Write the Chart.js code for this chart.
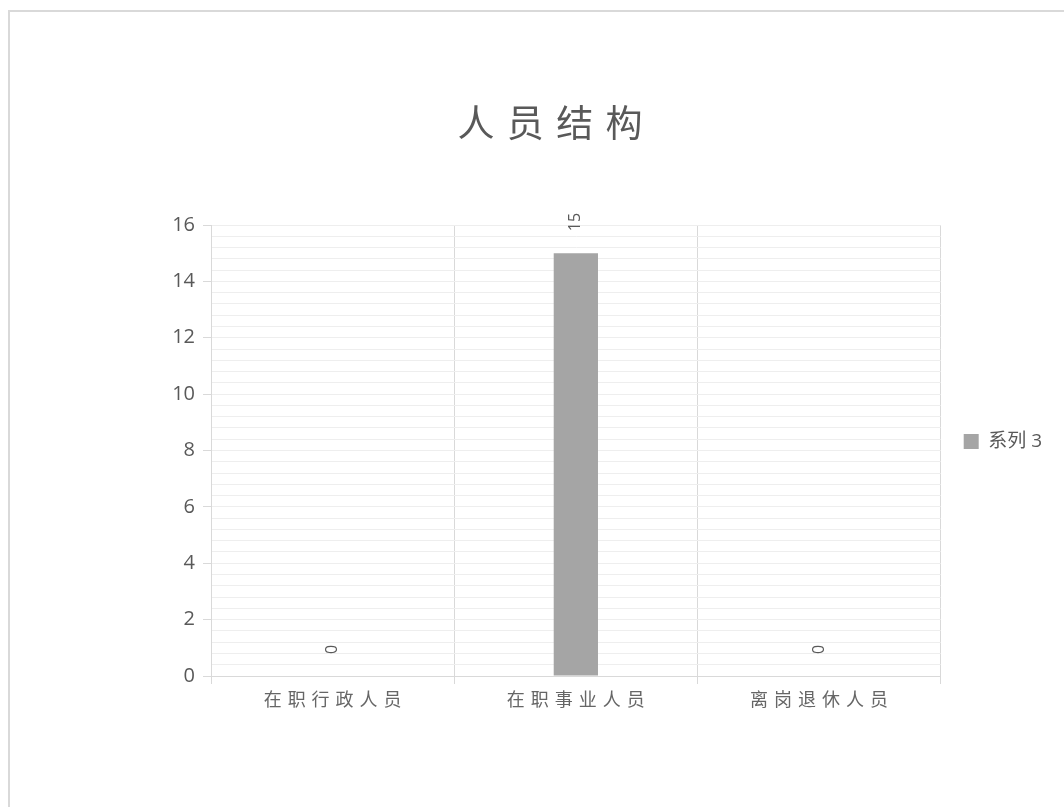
<!DOCTYPE html>
<html>
<head>
<meta charset="utf-8">
<script src="https://cdn.jsdelivr.net/npm/chart.js@4.4.1/dist/chart.umd.min.js"></script>
<style>
  html, body { margin: 0; padding: 0; overflow: hidden; background: #ffffff; }
  #wrap { position: absolute; left: 0; top: 0; width: 1064px; height: 807px; }
</style>
</head>
<body>
<div id="wrap"><canvas id="c"></canvas></div>
<script>
const chartTitle = '人员结构';
const categories = ['在职行政人员', '在职事业人员', '离岗退休人员'];
const seriesName = '系列 3';
const seriesValues = [0, 15, 0];
const yMin = 0, yMax = 16, yMajorStep = 2, yMinorStep = 0.4;

const FONT = "'Open Sans', 'Noto Sans CJK SC', sans-serif";
const TEXT = '#595959';
const spaced = (s, sp) => s.split('').join(sp);
const isMajor = v => Math.abs(v / yMajorStep - Math.round(v / yMajorStep)) < 1e-6;

const frame = {
  id: 'frame',
  beforeDraw(chart) {
    const ctx = chart.ctx;
    ctx.save();
    ctx.fillStyle = '#ffffff';
    ctx.fillRect(0, 0, chart.width, chart.height);
    ctx.strokeStyle = '#d9d9d9';
    ctx.lineWidth = 2;
    ctx.beginPath();
    ctx.moveTo(9, chart.height + 5);
    ctx.lineTo(9, 11);
    ctx.lineTo(chart.width + 5, 11);
    ctx.stroke();
    ctx.restore();
  }
};

const legendNudge = {
  id: 'legendNudge',
  afterLayout(chart) {
    if (chart.legend) {
      chart.legend.top -= 9;
      chart.legend.bottom -= 9;
    }
  }
};

const valueLabels = {
  id: 'valueLabels',
  afterDatasetsDraw(chart) {
    const ctx = chart.ctx;
    chart.data.datasets.forEach((ds, di) => {
      const meta = chart.getDatasetMeta(di);
      meta.data.forEach((el, i) => {
        ctx.save();
        ctx.translate(el.x, el.y - 22);
        ctx.rotate(-Math.PI / 2);
        ctx.font = '16px ' + FONT;
        ctx.fillStyle = TEXT;
        ctx.textAlign = 'left';
        ctx.textBaseline = 'middle';
        ctx.fillText(String(ds.data[i]), 0, 0);
        ctx.restore();
      });
    });
  }
};

new Chart(document.getElementById('c'), {
  type: 'bar',
  data: {
    labels: categories,
    datasets: [{
      label: seriesName,
      data: seriesValues,
      backgroundColor: '#a5a5a5',
      borderWidth: 0,
      barPercentage: 1,
      categoryPercentage: 0.182
    }]
  },
  options: {
    responsive: true,
    maintainAspectRatio: false,
    animation: false,
    devicePixelRatio: 1,
    layout: { padding: { left: 48, right: 12, top: 0, bottom: 91 } },
    plugins: {
      title: {
        display: true,
        text: spaced(chartTitle, '\u2004'),
        color: TEXT,
        font: { family: FONT, size: 37, weight: 'normal', lineHeight: 1.2 },
        padding: { top: 104, bottom: 76.6 }
      },
      legend: {
        position: 'right',
        fullSize: false,
        labels: {
          color: TEXT,
          font: { family: FONT, size: 19 },
          boxWidth: 15,
          boxHeight: 15,
          padding: 23
        }
      },
      tooltip: { enabled: false }
    },
    scales: {
      x: {
        offset: true,
        grid: {
          offset: true,
          color: '#d9d9d9',
          tickColor: '#d9d9d9',
          tickLength: 8,
          lineWidth: 1
        },
        border: { color: '#d9d9d9' },
        ticks: {
          color: '#666666',
          font: { family: FONT, size: 18 },
          padding: 6,
          maxRotation: 0,
          callback: function (v) { return spaced(this.getLabelForValue(v), '\u2004'); }
        },
        afterFit: s => { s.height = 40; }
      },
      y: {
        min: yMin,
        max: yMax,
        grid: {
          color: ctx => (ctx.tick && Math.abs(ctx.tick.value) < 1e-6) ? '#d9d9d9' : '#eeeeee',
          tickColor: ctx => (ctx.tick && isMajor(ctx.tick.value)) ? '#d9d9d9' : 'rgba(0,0,0,0)',
          tickLength: 8,
          lineWidth: 1
        },
        border: { color: '#d9d9d9' },
        ticks: {
          stepSize: yMinorStep,
          autoSkip: false,
          color: TEXT,
          font: { family: FONT, size: 20 },
          padding: 8,
          callback: v => isMajor(v) ? String(Math.round(v)) : ''
        },
        afterFit: s => { s.width = 163; }
      }
    }
  },
  plugins: [frame, legendNudge, valueLabels]
});
</script>
</body>
</html>
